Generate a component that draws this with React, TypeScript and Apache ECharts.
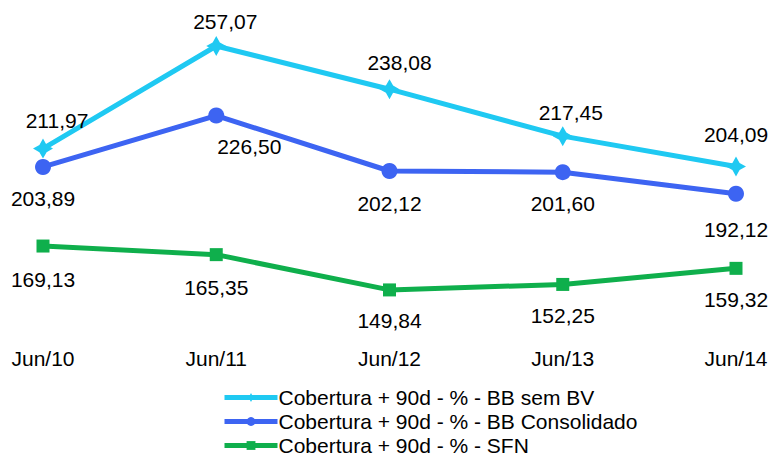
import React, { useEffect, useRef } from "react";
import * as echarts from "echarts";

const categories = ["Jun/10", "Jun/11", "Jun/12", "Jun/13", "Jun/14"];
const seriesNames = [
  "Cobertura + 90d - % - BB sem BV",
  "Cobertura + 90d - % - BB Consolidado",
  "Cobertura + 90d - % - SFN",
];
const bbSemBV = [211.97, 257.07, 238.08, 217.45, 204.09];
const bbConsolidado = [203.89, 226.5, 202.12, 201.6, 192.12];
const sfn = [169.13, 165.35, 149.84, 152.25, 159.32];

// label placement tweaks (style only)
const cyanOffsets = [[14, -4], [9, 0], [10, -2], [8, 1], [0, -8]];
const blueOffsets = [[0, 1], [33, 0], [0, 2], [0, 1], [0, 5]];
const greenOffsets = [[0, 4], [0, 4], [0, 2], [0, 2], [0, 2]];

const fmt = (v: number) => v.toFixed(2).replace(".", ",");

const STAR = "path://M0,-10 L3.6,-3.6 L10,0 L3.6,3.6 L0,10 L-3.6,3.6 L-10,0 L-3.6,-3.6 Z";

function build(values: number[], offsets: number[][], pos: string, dist: number) {
  return values.map((v, i) => ({
    value: v,
    label: { offset: offsets[i], position: pos, distance: dist },
  }));
}

export default function App() {
  const ref = useRef<HTMLDivElement>(null);
  useEffect(() => {
    document.body.style.margin = "0";
    const chart = echarts.init(ref.current!, null, { renderer: "svg" });
    const labelStyle = {
      show: true,
      fontFamily: "Liberation Sans, Arial, sans-serif",
      fontSize: 21,
      color: "#000",
      formatter: (p: any) => fmt(p.value),
    };
    chart.setOption({
      animation: false,
      backgroundColor: "#fff",
      grid: { left: 43, right: 45, top: 16.6, bottom: 146.7, containLabel: false },
      xAxis: {
        type: "category",
        data: categories,
        boundaryGap: false,
        axisLine: { show: false },
        axisTick: { show: false },
        splitLine: { show: false },
        axisLabel: {
          margin: 36,
          fontSize: 21,
          color: "#000",
          fontFamily: "Liberation Sans, Arial, sans-serif",
        },
      },
      yAxis: {
        type: "value",
        min: 140,
        max: 270,
        show: false,
        splitLine: { show: false },
      },
      legend: {
        orient: "vertical",
        left: 222,
        top: 386,
        height: 73,
        padding: 0,
        itemGap: 1,
        itemWidth: 53,
        itemHeight: 11,
        lineStyle: { width: 5 },
        textStyle: {
          fontSize: 21,
          lineHeight: 23,
          color: "#000",
          fontFamily: "Liberation Sans, Arial, sans-serif",
          padding: [0, 0, 0, -4],
        },
        data: seriesNames,
      },
      series: [
        {
          name: seriesNames[0],
          type: "line",
          data: build(bbSemBV, cyanOffsets, "top", 4),
          symbol: STAR,
          symbolSize: 20,
          lineStyle: { width: 5, color: "#1FC9F2" },
          itemStyle: { color: "#1FC9F2" },
          label: labelStyle,
          z: 3,
        },
        {
          name: seriesNames[1],
          type: "line",
          data: build(bbConsolidado, blueOffsets, "bottom", 12),
          symbol: "circle",
          symbolSize: 16,
          lineStyle: { width: 5, color: "#3D64F2" },
          itemStyle: { color: "#3D64F2" },
          label: labelStyle,
          z: 2,
        },
        {
          name: seriesNames[2],
          type: "line",
          data: build(sfn, greenOffsets, "bottom", 12),
          symbol: "rect",
          symbolSize: 13,
          lineStyle: { width: 5, color: "#0FAF4C" },
          itemStyle: { color: "#0FAF4C" },
          label: labelStyle,
          z: 1,
        },
      ],
    });
    return () => chart.dispose();
  }, []);
  return <div ref={ref} style={{ width: 781, height: 459 }} />;
}
